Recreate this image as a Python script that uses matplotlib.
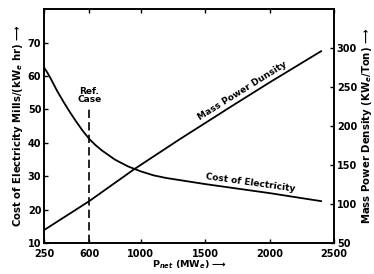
import matplotlib
matplotlib.use("Agg")
import matplotlib.pyplot as plt
import numpy as np

# data
p_net = [250, 275, 300, 350, 400, 450, 500, 550, 600, 650, 700, 800, 900,
         1000, 1100, 1200, 1500, 2000, 2400]
cost_elec = [62.5, 61.0, 59.3, 55.6, 52.3, 49.2, 46.3, 43.6, 41.2, 39.3, 37.7,
             35.0, 33.0, 31.5, 30.3, 29.5, 27.7, 25.0, 22.6]

p_mpd = [250, 600, 950, 1300, 1700, 2000, 2400]
mass_pd = [67, 104, 145, 183, 225, 256, 296]

ref_case = 600
x_ticks = [250, 600, 1000, 1500, 2000, 2500]
left_ticks = [10, 20, 30, 40, 50, 60, 70]
right_ticks = [50, 100, 150, 200, 250, 300]

plt.rcParams['font.family'] = 'DejaVu Sans'
plt.rcParams['font.weight'] = 'bold'

fig = plt.figure(figsize=(3.74, 2.74), dpi=100)
ax = fig.add_axes([0.118, 0.112, 0.775, 0.855])
ax2 = ax.twinx()

ax.plot(p_net, cost_elec, color='black', lw=1.3)
ax2.plot(p_mpd, mass_pd, color='black', lw=1.3)

# reference case line
ax.plot([ref_case, ref_case], [10, 50.5], color='black', lw=1.2, dashes=(5, 2.5))
ax.text(ref_case, 51.5, "Ref.\nCase", ha='center', va='bottom', fontsize=6.5,
        linespacing=0.9, fontweight='bold')

ax.set_xlim(250, 2500)
ax.set_ylim(10, 80)
ax2.set_ylim(50, 350)

ax.set_xticks(x_ticks)
ax.set_xticklabels([str(v) for v in x_ticks])
ax.set_yticks(left_ticks)
ax2.set_yticks(right_ticks)

for a in (ax, ax2):
    a.tick_params(direction='in', length=3, width=1, labelsize=7, pad=2)
    for s in a.spines.values():
        s.set_linewidth(1.2)
ax.tick_params(top=True)
ax.tick_params(axis='x', pad=4)

ax.set_xlabel("P$_{net}$ (MW$_e$) \u27f6", fontsize=6.8, fontweight='bold', labelpad=0)
ax.set_ylabel("Cost of Electricity Mills/(kW$_e$ hr) \u27f6", fontsize=7.3,
              fontweight='bold', labelpad=2)
ax2.set_ylabel("Mass Power Density (KW$_e$/Ton) \u27f6", fontsize=7.3,
               fontweight='bold', labelpad=2)

ax.text(1790, 55.5, "Mass Power Dunsity", rotation=32, fontsize=6.5,
        ha='center', va='center', fontweight='bold')
ax.text(1850, 28.2, "Cost of Electricity", rotation=-8, fontsize=6.5,
        ha='center', va='center', fontweight='bold')

fig.savefig("out.png", dpi=100)
